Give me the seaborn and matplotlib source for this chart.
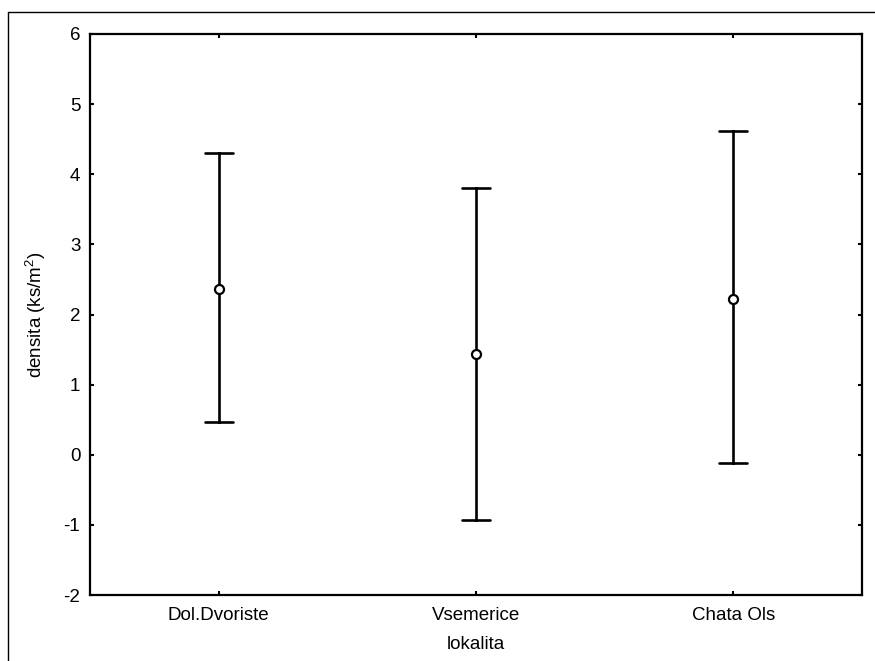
import numpy as np
import pandas as pd
import matplotlib
matplotlib.use("Agg")
import matplotlib.pyplot as plt
from matplotlib.lines import Line2D
import seaborn as sns

# Site names and density summaries (mean with lower/upper interval limits)
lokalita = ["Dol.Dvoriste", "Vsemerice", "Chata Ols"]
mean_vals = [2.37, 1.44, 2.22]
lower_vals = [0.46, -0.93, -0.12]
upper_vals = [4.31, 3.80, 4.62]
y_ticks = [-2, -1, 0, 1, 2, 3, 4, 5, 6]

# Long table: lower, mean, upper per site; median gives the mean, range gives the interval
rows = []
for name, lo, m, hi in zip(lokalita, lower_vals, mean_vals, upper_vals):
    for v in (lo, m, hi):
        rows.append({"lokalita": name, "densita": v})
df = pd.DataFrame(rows)

sns.set_theme(style="white")
plt.rcParams["font.family"] = ["Liberation Sans", "DejaVu Sans"]
plt.rcParams["mathtext.fontset"] = "custom"
plt.rcParams["mathtext.rm"] = "Liberation Sans"
plt.rcParams["text.color"] = "black"
plt.rcParams["axes.labelcolor"] = "black"

fig = plt.figure(figsize=(8.75, 6.61), dpi=100)
ax = fig.add_axes([90 / 875, 1 - 595 / 661, 772 / 875, 561 / 661])

sns.pointplot(
    data=df, x="lokalita", y="densita", order=lokalita,
    estimator="median", errorbar=lambda v: (v.min(), v.max()),
    color="black", linestyle="none", marker="o", markersize=6.5,
    capsize=0.11, err_kws={"linewidth": 1.9, "color": "black"},
    ax=ax,
)

for ln in ax.lines:
    if ln.get_marker() == "o":
        ln.set_markerfacecolor("white")
        ln.set_markeredgecolor("black")
        ln.set_markeredgewidth(1.6)
        ln.set_zorder(5)

ax.set_xlim(-0.5, 2.5)
ax.set_ylim(-2, 6)
ax.set_yticks(y_ticks)
ax.set_yticklabels([str(t) for t in y_ticks])

for s in ax.spines.values():
    s.set_visible(True)
    s.set_linewidth(1.6)
    s.set_color("black")

ax.tick_params(axis="both", which="major", direction="in", length=3, width=1.5,
               top=True, right=True, bottom=True, left=True,
               labelsize=13.5, colors="black")
ax.tick_params(axis="y", pad=7)
ax.tick_params(axis="x", pad=9)

ax.set_xlabel("lokalita", fontsize=13.5, labelpad=8, color="black")
ax.set_ylabel("densita (ks/m$^2$)", fontsize=13.5, labelpad=11, color="black")
ax.grid(False)

# Thin frame along the left and top edges of the canvas
fig.add_artist(Line2D([8 / 875, 8 / 875], [0, 1 - 12 / 661], transform=fig.transFigure,
                      color="black", linewidth=1.0))
fig.add_artist(Line2D([8 / 875, 1], [1 - 12 / 661, 1 - 12 / 661], transform=fig.transFigure,
                      color="black", linewidth=1.0))

fig.savefig("out.png", dpi=100, facecolor="white")
